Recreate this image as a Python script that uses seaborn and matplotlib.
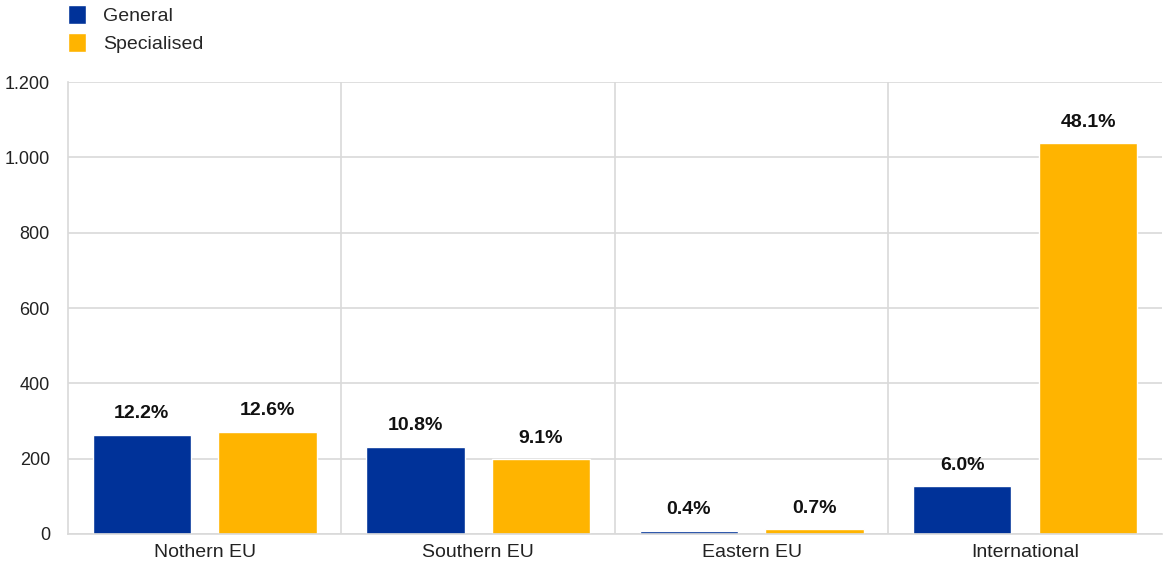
import pandas as pd
import matplotlib
matplotlib.use('Agg')
import matplotlib.pyplot as plt
import seaborn as sns

# data
regions = ['Nothern EU', 'Southern EU', 'Eastern EU', 'International']
general = [263, 231, 8, 127]
specialised = [271, 199, 13, 1038]
general_pct = ['12.2%', '10.8%', '0.4%', '6.0%']
specialised_pct = ['12.6%', '9.1%', '0.7%', '48.1%']
series = ['General', 'Specialised']
colors = ['#003299', '#FFB400']

df = pd.DataFrame({
    'region': regions * 2,
    'value': general + specialised,
    'series': [series[0]] * 4 + [series[1]] * 4,
})

sns.set_style('white')
plt.rcParams['font.family'] = ['Liberation Sans', 'DejaVu Sans']

fig = plt.figure(figsize=(11.63, 5.70), dpi=100)
ax = fig.add_axes([0.0585, 0.0632, 0.9405, 0.7928])

sns.barplot(data=df, x='region', y='value', hue='series', palette=colors,
            width=0.92, gap=0.217, ax=ax, saturation=1, legend=True)

ax.set_ylim(0, 1200)
ax.set_xlim(-0.5, 3.5)
ax.set_yticks(range(0, 1201, 200))
ax.set_yticklabels([f'{v:,}'.replace(',', '.') for v in range(0, 1201, 200)], fontsize=13, color='#222222')
ax.tick_params(axis='x', labelsize=14, colors='#222222', length=0, pad=7)
ax.tick_params(axis='y', length=0, pad=13)
ax.set_xlabel('')
ax.set_ylabel('')

# grid: horizontal at each tick, vertical between groups
ax.grid(axis='y', color='#d9d9d9', linewidth=1.2)
for xb in [0.5, 1.5, 2.5]:
    ax.axvline(xb, color='#d9d9d9', linewidth=1.2, zorder=0)
ax.set_axisbelow(True)
for side in ['top', 'right']:
    ax.spines[side].set_visible(False)
for side in ['left', 'bottom']:
    ax.spines[side].set_color('#d9d9d9')
    ax.spines[side].set_linewidth(1.2)

for cont, labs in zip(ax.containers, [general_pct, specialised_pct]):
    ax.bar_label(cont, labels=labs, padding=9, fontsize=14, fontweight='bold', color='#111111')

handles, labels = ax.get_legend_handles_labels()
ax.legend(handles, labels, loc='upper left', bbox_to_anchor=(0.0, 1.17), frameon=False,
          fontsize=14, handlelength=0.9, handleheight=1.1, handletextpad=0.9,
          labelspacing=0.4, borderaxespad=0, borderpad=0)

fig.savefig('out.png', dpi=100)
